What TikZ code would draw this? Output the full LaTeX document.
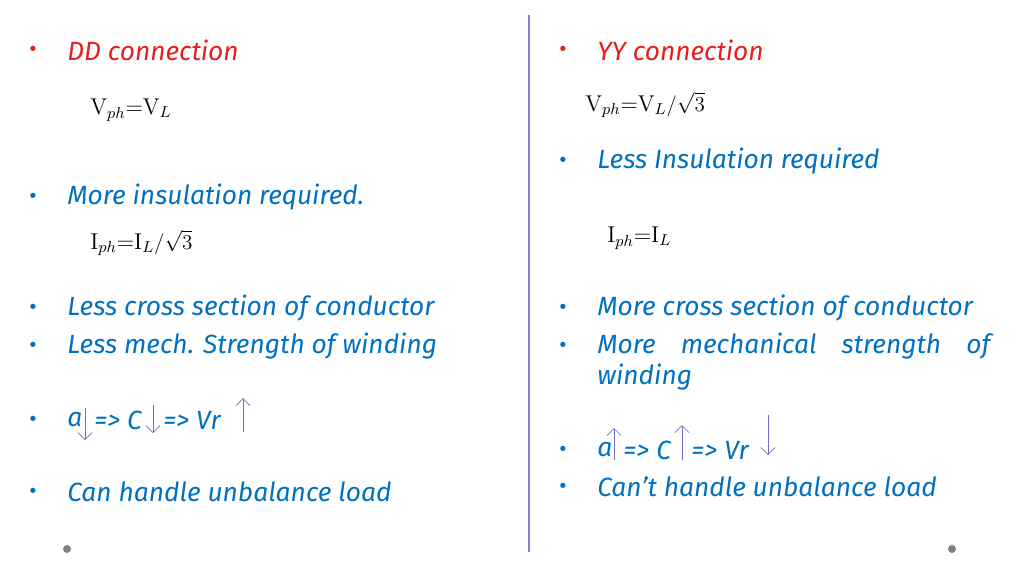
\documentclass[tikz,border=0pt]{standalone}
\usepackage{fontspec}
\setsansfont{Fira Sans}
\usetikzlibrary{arrows.meta}
\definecolor{txtblue}{RGB}{0,112,192}
\definecolor{hdred}{RGB}{230,30,30}
\definecolor{arrblue}{RGB}{110,110,200}
\tikzset{
  item/.style={anchor=west,inner sep=0pt,text=txtblue,font=\sffamily\itshape\fontsize{15}{18}\selectfont},
  head/.style={item,text=hdred},
  bul/.style={inner sep=0pt,font=\fontsize{11}{13}\selectfont},
  formula/.style={anchor=west,inner sep=0pt,font=\fontsize{13}{15}\selectfont},
  flux/.style={arrblue,thin,-{Straight Barb[length=4pt]}},
}
\begin{document}
\begin{tikzpicture}[x=0.02cm,y=-0.02cm]
  \useasboundingbox (0,0) rectangle (1024,576);
  % divider and dots
  \draw[gray!60!blue!70,line width=0.8pt] (529,15) -- (529,552);
  \fill[gray] (67,549) circle (4);
  \fill[gray] (952,549) circle (4);
  % bullets
  \foreach \y in {197,308,346,420,492} {%
    \node[bul,text=txtblue] at (33,\y) {\textbullet};
  }
  \foreach \y in {161,308,346,450,487} {%
    \node[bul,text=txtblue] at (563,\y) {\textbullet};
  }
  \node[bul,text=hdred] at (33,50) {\textbullet};
  \node[bul,text=hdred] at (563,50) {\textbullet};
  % left column
  \node[head] (dd) at (67,50) {DD connection};
  \node[formula] (vdd) at (90,110) {V$_{ph}$=V$_L$};
  \node[item] (ins1) at (67,197) {More insulation required.};
  \node[formula] (idd) at (90,243) {I$_{ph}$=I$_L\big/\sqrt{3}$};
  \node[item] (cs1) at (67,308) {Less cross section of conductor};
  \node[item] (ms1) at (67,346) {Less mech. Strength of winding};
  \node[item] (a1) at (67,420) {a};
  \node[item] (c1) at (94,420) {=> C};
  \node[item] (vr1) at (163,420) {=> Vr};
  \node[item] (ub1) at (67,492) {Can handle unbalance load};
  \draw[flux] (85,408) -- (85,440);
  \draw[flux] (153,405) -- (153,433);
  \draw[flux] (243,432) -- (243,398);
  % right column
  \node[head] (yy) at (597,50) {YY connection};
  \node[formula] (vyy) at (585,105) {V$_{ph}$=V$_L\big/\sqrt{3}$};
  \node[item] (ins2) at (597,161) {Less Insulation required};
  \node[formula] (iyy) at (607,238) {I$_{ph}$=I$_L$};
  \node[item] (cs2) at (597,308) {More cross section of conductor};
  \node[item] (ms2) at (597,346) {More\hspace{0.95em}mechanical\hspace{0.95em}strength\hspace{0.95em}of};
  \node[item] (wd2) at (597,377) {winding};
  \node[item] (a2) at (597,450) {a};
  \node[item] (c2) at (623,450) {=> C};
  \node[item] (vr2) at (691,450) {=> Vr};
  \node[item] (ub2) at (597,487) {Can't handle unbalance load};
  \draw[flux] (614,460) -- (614,428);
  \draw[flux] (682,460) -- (682,425);
  \draw[flux] (768,415) -- (768,455);
\end{tikzpicture}
\end{document}
